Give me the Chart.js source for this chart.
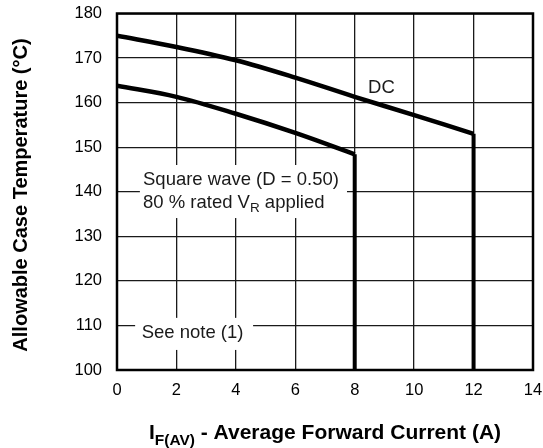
<!DOCTYPE html>
<html><head><meta charset="utf-8">
<script src="https://cdn.jsdelivr.net/npm/chart.js@4/dist/chart.umd.min.js"></script>
<style>html,body{margin:0;padding:0;background:#fff}#wrap{width:543px;height:448px}</style>
</head><body><div id="wrap"><canvas id="c" width="543" height="448"></canvas></div>
<script>
const xMin = 0, xMax = 14, xStep = 2;
const yMin = 100, yMax = 180, yStep = 10;
const dcX = [0, 2, 4, 6, 8, 10, 12];
const dcY = [175, 172.5, 169.5, 165.6, 161.3, 157.2, 153.0];
const sqX = [0, 2, 4, 6, 8];
const sqY = [163.8, 161.3, 157.5, 153.2, 148.4];
const dcLimit = 12, sqLimit = 8;
const yTitle = 'Allowable Case Temperature (°C)';
const xTitleMain = 'I', xTitleSub = 'F(AV)', xTitleRest = ' - Average Forward Current (A)';
const noteDC = 'DC';
const noteSq1 = 'Square wave (D = 0.50)';
const noteSq2a = '80 % rated V', noteSq2sub = 'R', noteSq2b = ' applied';
const noteSee = 'See note (1)';

const FONT = '"Liberation Sans", Arial, Helvetica, sans-serif';
const pts = (xs, ys) => xs.map((x, i) => ({x, y: ys[i]}));
const dcPts = pts(dcX, dcY);
const sqPts = pts(sqX, sqY);
const dcDrop = [{x: dcLimit, y: dcY[dcY.length-1]}, {x: dcLimit, y: yMin}];
const sqDrop = [{x: sqLimit, y: sqY[sqY.length-1]}, {x: sqLimit, y: yMin}];

const lineStyle = {borderColor: '#000', borderWidth: 4.5, pointRadius: 0, fill: false, showLine: true};

const annot = {
  id: 'annot',
  beforeDatasetsDraw(chart) {
    const ctx = chart.ctx, xs = chart.scales.x, ys = chart.scales.y;
    ctx.save();
    ctx.fillStyle = '#fff';
    const bx1 = xs.getPixelForValue(0.77), bx2 = xs.getPixelForValue(7.74);
    const by1 = ys.getPixelForValue(146), by2 = ys.getPixelForValue(134.1);
    ctx.fillRect(bx1, by1, bx2 - bx1, by2 - by1);
    const sx1 = xs.getPixelForValue(0.61), sx2 = xs.getPixelForValue(4.58);
    const sy1 = ys.getPixelForValue(111.7), sy2 = ys.getPixelForValue(104.5);
    ctx.fillRect(sx1, sy1, sx2 - sx1, sy2 - sy1);
    ctx.fillStyle = '#1a1a1a';
    ctx.textBaseline = 'middle';
    ctx.textAlign = 'left';
    const F = '18.5px ' + FONT;
    ctx.font = F;
    ctx.fillText(noteDC, xs.getPixelForValue(8.45), ys.getPixelForValue(163.3));
    const tx = xs.getPixelForValue(0.875);
    ctx.fillText(noteSq1, tx, ys.getPixelForValue(142.6));
    const l2y = ys.getPixelForValue(137.5);
    ctx.fillText(noteSq2a, tx, l2y);
    let w = ctx.measureText(noteSq2a).width;
    ctx.font = '13.5px ' + FONT;
    ctx.fillText(noteSq2sub, tx + w, l2y + 5);
    const w2 = ctx.measureText(noteSq2sub).width;
    ctx.font = F;
    ctx.fillText(noteSq2b, tx + w + w2, l2y);
    ctx.fillText(noteSee, xs.getPixelForValue(0.83), ys.getPixelForValue(108.3));
    ctx.restore();
  },
  afterDraw(chart) {
    const ctx = chart.ctx, a = chart.chartArea;
    ctx.save();
    ctx.strokeStyle = '#000';
    ctx.lineWidth = 2.5;
    ctx.strokeRect(a.left, a.top, a.right - a.left, a.bottom - a.top);
    ctx.fillStyle = '#000';
    ctx.font = 'bold 20px ' + FONT;
    ctx.textAlign = 'center';
    ctx.textBaseline = 'middle';
    ctx.translate(21, 195);
    ctx.rotate(-Math.PI / 2);
    ctx.fillText(yTitle, 0, 0);
    ctx.setTransform(1, 0, 0, 1, 0, 0);
    const mainF = 'bold 21px ' + FONT, subF = 'bold 15.5px ' + FONT;
    ctx.font = mainF; const w1 = ctx.measureText(xTitleMain).width;
    const w3 = ctx.measureText(xTitleRest).width;
    ctx.font = subF; const w2 = ctx.measureText(xTitleSub).width;
    const total = w1 + w2 + w3;
    let x0 = 325 - total / 2;
    const base = 439;
    ctx.textAlign = 'left'; ctx.textBaseline = 'alphabetic';
    ctx.font = mainF; ctx.fillText(xTitleMain, x0, base);
    ctx.font = subF; ctx.fillText(xTitleSub, x0 + w1, base + 6);
    ctx.font = mainF; ctx.fillText(xTitleRest, x0 + w1 + w2, base);
    ctx.restore();
  }
};

new Chart(document.getElementById('c'), {
  type: 'scatter',
  data: {datasets: [
    Object.assign({data: dcPts, tension: 0.35}, lineStyle),
    Object.assign({data: dcDrop, tension: 0}, lineStyle, {borderWidth: 4}),
    Object.assign({data: sqPts, tension: 0.35}, lineStyle),
    Object.assign({data: sqDrop, tension: 0}, lineStyle, {borderWidth: 4})
  ]},
  options: {
    responsive: false, animation: false, devicePixelRatio: 1,
    layout: {padding: {left: 0, top: 13.5, right: 10, bottom: 0}},
    plugins: {legend: {display: false}, tooltip: {enabled: false}},
    scales: {
      x: {
        type: 'linear', min: xMin, max: xMax,
        afterFit(s) { s.height = 78; s.paddingLeft = 0; s.paddingRight = 0; },
        ticks: {stepSize: xStep, color: '#000', font: {family: FONT, size: 16.5}, padding: 11, maxRotation: 0},
        grid: {color: '#1a1a1a', lineWidth: 1.3, drawTicks: false},
        border: {display: false}
      },
      y: {
        type: 'linear', min: yMin, max: yMax,
        afterFit(s) { s.width = 117; s.paddingTop = 0; s.paddingBottom = 0; },
        ticks: {stepSize: yStep, color: '#000', font: {family: FONT, size: 16.5}, padding: 15},
        grid: {color: '#1a1a1a', lineWidth: 1.3, drawTicks: false},
        border: {display: false}
      }
    }
  },
  plugins: [annot]
});
</script></body></html>
